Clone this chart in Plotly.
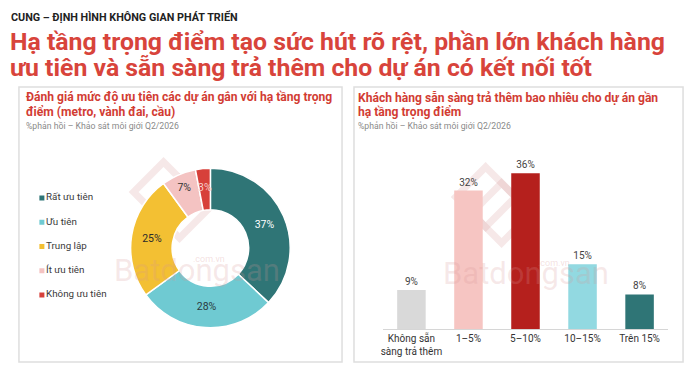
import math
import plotly.graph_objects as go

W, H = 700, 368

# ---- data ----
pie_labels = ["Rất ưu tiên", "Ưu tiên", "Trung lập", "Ít ưu tiên", "Không ưu tiên"]
pie_values = [37, 28, 25, 7, 3]
pie_colors = ["#2f7576", "#6fcad2", "#f3c033", "#f4c3c2", "#d7403a"]
pie_text_colors = ["#ffffff", "#2b3a40", "#2b2b2b", "#333333", "#f6cfcc"]

bar_categories = ["Không sẵn<br>sàng trả thêm", "1–5%", "5–10%", "10–15%", "Trên 15%"]
bar_values = [9, 32, 36, 15, 8]
bar_colors = ["#d9d9d9", "#f6c5c2", "#b5201d", "#92d9e1", "#2f7576"]


def X(px):
    return px / W


def Y(py):
    return 1 - py / H


# donut geometry (pixels)
PIE_CX, PIE_CY, PIE_R, HOLE = 209, 248, 80, 0.48

fig = go.Figure()

# Donut
fig.add_trace(go.Pie(
    labels=pie_labels, values=pie_values, sort=False, direction="clockwise",
    rotation=0, hole=HOLE,
    marker=dict(colors=pie_colors, line=dict(color="white", width=1.5)),
    texttemplate="%{value}%",
    textposition=["inside"] * (len(pie_values) - 1) + ["none"],
    insidetextorientation="horizontal",
    textfont=dict(size=10.5, color=pie_text_colors, family="Roboto"),
    domain=dict(x=[X(PIE_CX - PIE_R), X(PIE_CX + PIE_R)], y=[Y(PIE_CY + PIE_R), Y(PIE_CY - PIE_R)]),
    showlegend=False, hoverinfo="label+percent",
))

# Manual legend (left panel)
fig.add_trace(go.Scatter(
    x=[0] * len(pie_labels), y=list(range(len(pie_labels))),
    mode="markers+text", text=pie_labels, textposition="middle right",
    marker=dict(symbol="square", size=5, color=pie_colors),
    textfont=dict(size=9.8, color="#3a3a3a", family="Roboto"),
    xaxis="x2", yaxis="y2", showlegend=False, cliponaxis=False, hoverinfo="skip",
))

# Bars (right panel)
fig.add_trace(go.Bar(
    x=bar_categories, y=bar_values, marker=dict(color=bar_colors, line=dict(width=0)),
    text=[f"{v}%" for v in bar_values], textposition="outside",
    textfont=dict(size=10, color="#444444", family="Roboto"),
    cliponaxis=False, showlegend=False, width=0.5,
))

fig.update_layout(
    width=W, height=H, margin=dict(l=0, r=0, t=0, b=0),
    paper_bgcolor="white", plot_bgcolor="rgba(0,0,0,0)",
    font=dict(family="Roboto", color="#333"),
    xaxis=dict(domain=[X(382), X(668)], range=[-0.5, 4.5], showgrid=False, zeroline=False,
               showline=True, linecolor="#d6d6d6", linewidth=1, ticks="",
               tickfont=dict(size=10, color="#333333", family="Roboto"), fixedrange=True),
    yaxis=dict(domain=[Y(329), Y(156)], range=[0, 40], visible=False, fixedrange=True),
    xaxis2=dict(domain=[X(40), X(140)], range=[0, 1], visible=False, anchor="y2"),
    yaxis2=dict(domain=[Y(295), Y(198)], range=[4, 0], visible=False, anchor="x2"),
    bargap=0.5,
)

shapes = []
# panel frames
shapes.append(dict(type="rect", xref="paper", yref="paper", x0=X(17), x1=X(341), y0=Y(362), y1=Y(87),
                   line=dict(color="#dedede", width=1.5), fillcolor="rgba(0,0,0,0)", layer="below"))
shapes.append(dict(type="rect", xref="paper", yref="paper", x0=X(353), x1=X(683), y0=Y(362), y1=Y(87),
                   line=dict(color="#dedede", width=1.5), fillcolor="rgba(0,0,0,0)", layer="below"))


# faint watermark logo (diamonds)
def diamond(cx, cy, r):
    pts = [(cx, cy - r), (cx + r, cy), (cx, cy + r), (cx - r, cy)]
    return "M " + " L ".join(f"{X(a)},{Y(b)}" for a, b in pts) + " Z"


for cx, cy in [(170, 200), (493, 205)]:
    for dx, dy, r in [(-8, -8, 30), (8, 8, 30)]:
        shapes.append(dict(type="path", xref="paper", yref="paper", path=diamond(cx + dx, cy + dy, r),
                           line=dict(color="rgba(215,150,150,0.22)", width=7), layer="below"))

fig.update_layout(shapes=shapes)

ann = []
ann.append(dict(x=X(7), y=Y(17), text="CUNG – ĐỊNH HÌNH KHÔNG GIAN PHÁT TRIỂN",
                font=dict(size=10.8, color="#222222", family="Roboto", weight=700)))
ann.append(dict(x=X(6), y=Y(42), text="Hạ tầng trọng điểm tạo sức hút rõ rệt, phần lớn khách hàng",
                font=dict(size=24.8, color="#d8443b", family="Roboto", weight=700)))
ann.append(dict(x=X(6), y=Y(68), text="ưu tiên và sẵn sàng trả thêm cho dự án có kết nối tốt",
                font=dict(size=24.8, color="#d8443b", family="Roboto", weight=700)))

ann.append(dict(x=X(22), y=Y(97), text="Đánh giá mức độ ưu tiên các dự án gắn với hạ tầng trọng",
                font=dict(size=12.1, color="#d23c33", family="Roboto", weight=700)))
ann.append(dict(x=X(22), y=Y(112), text="điểm (metro, vành đai, cầu)",
                font=dict(size=12.1, color="#d23c33", family="Roboto", weight=700)))
ann.append(dict(x=X(22), y=Y(126), text="%phản hồi – Khảo sát môi giới Q2/2026",
                font=dict(size=8.7, color="#8a8a8a", family="Roboto")))

ann.append(dict(x=X(355), y=Y(97), text="Khách hàng sẵn sàng trả thêm bao nhiêu cho dự án gần",
                font=dict(size=12.1, color="#d23c33", family="Roboto", weight=700)))
ann.append(dict(x=X(355), y=Y(112), text="hạ tầng trọng điểm",
                font=dict(size=12.1, color="#d23c33", family="Roboto", weight=700)))
ann.append(dict(x=X(355), y=Y(126), text="%phản hồi – Khảo sát môi giới Q2/2026",
                font=dict(size=8.7, color="#8a8a8a", family="Roboto")))

# label of the thinnest slice, placed at its ring centre (computed from the data)
total = sum(pie_values)
cum_before = sum(pie_values[:-1])
ang = math.radians((cum_before + pie_values[-1] / 2) / total * 360)
r_mid = PIE_R * (1 + HOLE) / 2
lx = PIE_CX + r_mid * math.sin(ang)
ly = PIE_CY - r_mid * math.cos(ang) - 2
ann.append(dict(x=X(lx), y=Y(ly), text=f"{pie_values[-1]}%", xanchor="center",
                font=dict(size=10.5, color=pie_text_colors[-1], family="Roboto")))

# watermark texts
for x0, y0, xc, yc in [(110, 270, 190, 259), (440, 273, 536, 263)]:
    ann.append(dict(x=X(x0), y=Y(y0), text="Batdongsan",
                    font=dict(size=31, color="rgba(215,150,150,0.22)", family="Roboto")))
    ann.append(dict(x=X(xc), y=Y(yc), text=".com.vn",
                    font=dict(size=9, color="rgba(215,150,150,0.3)", family="Roboto")))

for a in ann:
    a.setdefault("xanchor", "left")
    a.update(xref="paper", yref="paper", yanchor="middle", showarrow=False)
fig.update_layout(annotations=ann)

fig.write_html("out.html")
